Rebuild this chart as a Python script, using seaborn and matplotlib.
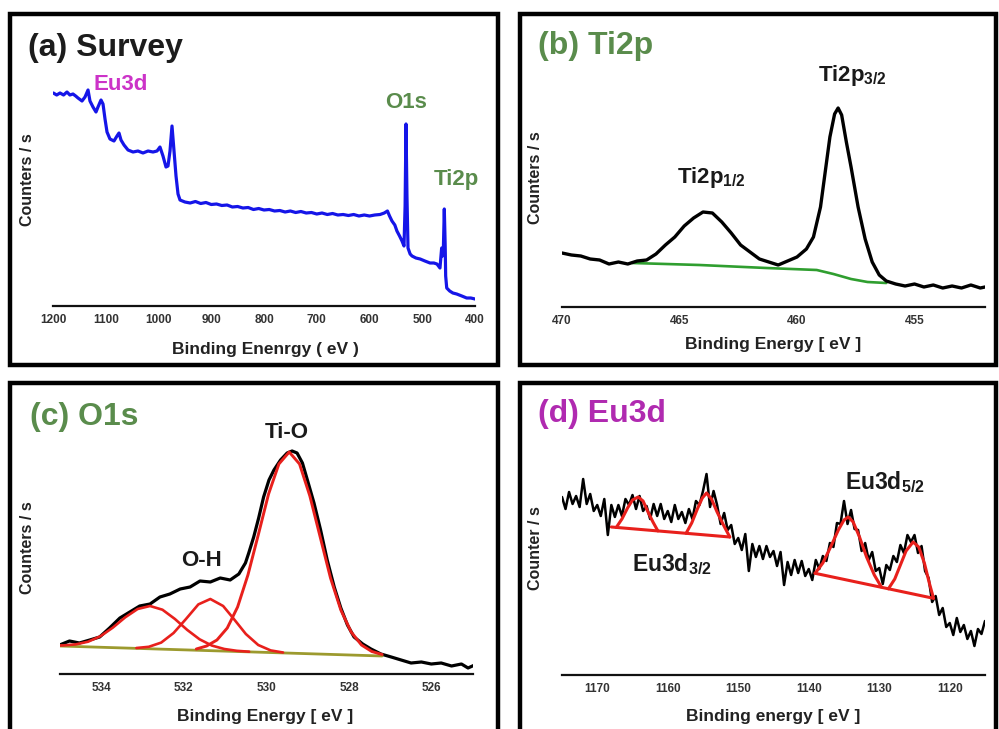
import numpy as np
import pandas as pd
import matplotlib
matplotlib.use("Agg")
import matplotlib.pyplot as plt
from matplotlib.patches import Rectangle
import seaborn as sns

# ---------------- data (intensities in arbitrary counts/s) ----------------
# (a) survey spectrum
survey_energy = [1199.4, 1193, 1186.7, 1180, 1173.5, 1168, 1162.1, 1157, 1152.6, 1145.0, 1139.3,
                 1133.6, 1129.9, 1124.2, 1118.5, 1114.7, 1109.0, 1105.2, 1101.4, 1097.6, 1092.0,
                 1084.4, 1078.7, 1074.9, 1071.1, 1065.4, 1057.8, 1048.3, 1038.9, 1029.4, 1019.9,
                 1010.4, 1002.8, 997.2, 991.5, 985.8, 982.0, 978.2, 974.4, 970.6, 966.8, 963.0,
                 959.2, 950, 940, 930, 920, 910, 900, 890, 880, 870, 860, 850, 840, 830, 820,
                 810, 800, 790, 780, 770, 760, 750, 740, 730, 720, 710, 700, 690, 680, 670,
                 660, 650, 640, 630, 620, 610, 600, 590, 580, 572, 566, 562, 557.4, 552, 548,
                 543, 538.4, 534.6, 532.5, 530.8, 529, 527, 523, 519.4, 512, 504, 495, 485.3,
                 478, 472.1, 466.4, 463.2, 461.5, 460.1, 458.2, 456.5, 455.6, 453.6, 448,
                 442, 434.7, 425, 415.8, 408, 400]
survey_counts = [213, 211, 213, 211, 214, 211, 212, 210, 208, 205, 209,
                 216, 205, 199, 194, 199, 206, 202, 187, 174, 167,
                 165, 170, 173, 166, 161, 156, 154, 155, 153, 155,
                 154, 155, 159, 150, 139, 140, 155, 180, 155, 130, 112,
                 106, 104, 103, 104.5, 102.5, 103.5, 101.5, 102, 100.5, 101, 99, 99.5, 98, 98.5, 96.5,
                 97.5, 96, 96.5, 95, 95.5, 94, 95, 93.5, 94.5, 93, 93.5, 92, 93, 91.5, 92.5,
                 91, 91.5, 90.5, 91.5, 90, 91, 90, 91, 91.5, 93, 95, 90, 85, 81, 75,
                 70, 65, 60, 100, 182, 110, 58, 52, 50, 48, 47, 45, 43,
                 43, 42, 38, 58, 50, 54, 97, 60, 30, 18, 15,
                 13, 12, 10, 8, 8, 7]

# (b) Ti2p high resolution
ti_energy = [470.0, 469.6, 469.2, 468.8, 468.4, 468.0, 467.6, 467.2, 466.8, 466.4, 466.0,
             465.6, 465.2, 464.8, 464.4, 464.0, 463.6, 463.2, 462.8, 462.4, 462.0, 461.6,
             461.2, 460.8, 460.4, 460.0, 459.6, 459.3, 459.0, 458.8, 458.6, 458.4, 458.25,
             458.1, 457.9, 457.7, 457.4, 457.1, 456.8, 456.5, 456.2, 455.8, 455.4, 455.0,
             454.6, 454.2, 453.8, 453.4, 453.0, 452.6, 452.2, 452.0]
ti_counts = [54, 52, 51, 48, 47, 43, 45, 43, 46, 47, 53,
             62, 70, 81, 89, 95, 94, 85, 74, 62, 55, 48,
             45, 42, 46, 50, 58, 70, 100, 135, 170, 193, 199,
             192, 165, 140, 100, 68, 45, 32, 26, 23, 21, 23,
             20, 22, 19, 21, 19, 22, 19, 20]
ti_bg_energy = [467.0, 464.15, 461.3, 459.16, 458.45, 457.7, 457.0, 456.2]
ti_bg_counts = [44, 42, 39, 37, 33, 28, 25, 24]

# (c) O1s high resolution
o_energy = [535.01, 534.77, 534.53, 534.28, 534.04, 533.80, 533.55, 533.31, 533.07, 532.82,
            532.58, 532.34, 532.09, 531.85, 531.61, 531.36, 531.12, 530.88, 530.67, 530.51,
            530.43, 530.31, 530.19, 530.07, 529.94, 529.82, 529.66, 529.50, 529.38, 529.26,
            529.13, 529.01, 528.85, 528.69, 528.53, 528.36, 528.20, 528.04, 527.88, 527.67,
            527.47, 527.23, 526.98, 526.74, 526.50, 526.25, 526.01, 525.77, 525.52, 525.28,
            525.12, 524.96]
o_counts = [29, 33, 31, 34, 37, 46, 56, 62, 68, 70,
            77, 80, 85, 87, 93, 92, 96, 94, 100, 111,
            121, 137, 156, 177, 194, 204, 214, 221, 223, 221,
            211, 194, 171, 144, 114, 87, 66, 49, 37, 30,
            25, 20, 17, 14, 11, 12, 10, 11, 8, 10,
            6, 9]
o_bg_energy = [535.0, 531.1, 527.2]
o_bg_counts = [28, 23, 18]
tio_energy = [527.2, 527.45, 527.7, 527.95, 528.2, 528.45, 528.7, 528.95, 529.2, 529.45,
              529.7, 529.95, 530.2, 530.45, 530.7, 530.95, 531.2, 531.45, 531.7]
tio_counts = [19.5, 22.5, 29, 42, 64, 96, 137, 178, 210, 222,
              210, 180, 139, 99, 67, 46, 34, 28, 25]
oh_energy = [529.6, 529.9, 530.2, 530.5, 530.8, 531.05, 531.36, 531.65, 531.95, 532.25,
             532.55, 532.85, 533.15]
oh_counts = [21.5, 23.6, 29, 40, 55.5, 68, 75, 69.6, 55, 41, 31.4, 27.2, 26]
o3_energy = [535.0, 534.92, 534.62, 534.32, 534.02, 533.72, 533.42, 533.12, 532.82, 532.52,
             532.22, 531.92, 531.62, 531.32, 531.02, 530.72, 530.42]
o3_counts = [28.5, 28.6, 29.6, 32.3, 37.8, 46.4, 56.7, 65, 68, 64.3,
             55.1, 44.1, 34.7, 28.4, 25, 23.2, 22.3]

# (d) Eu3d high resolution (sampled every 0.5 eV from 1175 to 1115 eV)
eu_energy = np.arange(1175.0, 1114.9, -0.5)
eu_counts = [178, 166, 183, 171, 179, 168, 196, 171, 181, 164,
             170, 159, 176, 140, 170, 158, 170, 159, 176, 170,
             180, 166, 179, 164, 169, 156, 171, 159, 171, 156,
             164, 153, 170, 156, 163, 152, 166, 156, 174, 170,
             184, 201, 168, 184, 170, 151, 162, 145, 150, 131,
             137, 125, 141, 104, 131, 118, 129, 116, 129, 118,
             124, 109, 123, 90, 113, 100, 115, 102, 114, 99,
             106, 95, 115, 106, 119, 114, 132, 128, 152, 151,
             174, 151, 165, 146, 145, 124, 132, 115, 123, 104,
             107, 91, 110, 105, 119, 113, 130, 122, 140, 133,
             140, 122, 129, 104, 97, 73, 79, 60, 67, 48,
             52, 40, 57, 43, 50, 36, 44, 29, 46, 41, 54]
eu_bg1_energy = [1168.0, 1151.2]
eu_bg1_counts = [148, 138]
eu_bg2_energy = [1139.1, 1122.3]
eu_bg2_counts = [101.7, 76.7]
eu_pa_energy = [1167.3, 1166.5, 1165.7, 1165.0, 1164.2, 1163.5, 1162.8, 1162.1, 1161.4]
eu_pa_counts = [147.6, 156, 167, 175, 178, 174, 163, 153, 144.1]
eu_pb_energy = [1157.4, 1156.6, 1155.8, 1155.1, 1154.5, 1153.8, 1153.0, 1152.1, 1151.2]
eu_pb_counts = [141.7, 152, 166, 177, 182, 176, 163, 150, 138]
eu_pc_energy = [1139.1, 1138.0, 1136.9, 1135.8, 1135.0, 1134.4, 1133.7, 1132.8, 1131.8, 1130.7, 1129.7]
eu_pc_counts = [101.7, 112, 128, 145, 155, 158, 153, 138, 118, 100, 88]
eu_pd_energy = [1128.7, 1127.8, 1127.0, 1126.2, 1125.2, 1124.4, 1123.6, 1122.9, 1122.3]
eu_pd_counts = [86.2, 96, 110, 124, 133, 128, 112, 92, 76.7]

ticks_a = [1200, 1100, 1000, 900, 800, 700, 600, 500, 400]
ticks_b = [470, 465, 460, 455]
ticks_c = [534, 532, 530, 528, 526]
ticks_d = [1170, 1160, 1150, 1140, 1130, 1120]

# ---------------- style ----------------
sns.set_theme(style="white")
plt.rcParams["font.family"] = ["Liberation Sans", "DejaVu Sans"]
plt.rcParams["font.weight"] = "bold"
plt.rcParams["mathtext.fontset"] = "custom"
plt.rcParams["mathtext.rm"] = "Liberation Sans:bold"
plt.rcParams["mathtext.bf"] = "Liberation Sans:bold"
plt.rcParams["mathtext.it"] = "Liberation Sans:bold"
plt.rcParams["mathtext.default"] = "bf"

W, H = 999, 729
fig = plt.figure(figsize=(W / 100, H / 100), dpi=100)
fig.patch.set_facecolor("white")

GREEN = "#5a8c4c"
MAGENTA = "#cc33c8"
PURPLE = "#b02ab0"
RED = "#e8201c"


def add_ax(l, t, r, b):
    return fig.add_axes([l / W, 1 - b / H, (r - l) / W, (b - t) / H])


def style_ax(ax, l, t, r, b, xlim, ticks, xlabel, ylabel, xl_center, xl_top, yl_right, yl_center):
    ax.set_xlim(*xlim)
    ax.set_ylim(0, b - t)
    ax.set_xticks(ticks)
    ax.set_xticklabels([str(v) for v in ticks], fontsize=8.5, fontweight="bold", color="#333333")
    ax.set_yticks([])
    for s in ["left", "top", "right"]:
        ax.spines[s].set_visible(False)
    ax.spines["bottom"].set_linewidth(1.6)
    ax.spines["bottom"].set_color("#111111")
    ax.tick_params(axis="x", direction="in", length=3.5, width=1.2, pad=6, colors="#333333")
    ax.set_xlabel(xlabel, fontsize=12.5, fontweight="bold", color="#222222")
    ax.set_ylabel(ylabel, fontsize=11.5, fontweight="bold", color="#222222")
    ax.xaxis.set_label_coords((xl_center - l) / (r - l), -(xl_top - b) / (b - t))
    ax.yaxis.set_label_coords((yl_right - l) / (r - l), (b - yl_center) / (b - t))
    ax.set_facecolor("white")
    ax.patch.set_alpha(0)


def line(ax, x, y, color, lw):
    sns.lineplot(x=x, y=y, ax=ax, color=color, linewidth=lw, sort=False, estimator=None)


def ftext(px, py, s, color, size, ha="left", va="center"):
    fig.text(px / W, 1 - py / H, s, color=color, fontsize=size, fontweight="bold", ha=ha, va=va)


# frames around panels
for (x0, y0, x1, y1) in [(10, 13.5, 497.5, 364.5), (519.5, 13.5, 996, 364.5),
                         (10, 383, 497.5, 745), (519.5, 383, 996, 745)]:
    fig.add_artist(Rectangle((x0 / W, 1 - y1 / H), (x1 - x0) / W, (y1 - y0) / H,
                             transform=fig.transFigure, fill=False, lw=3.2, ec="black"))

# (a) survey
axa = add_ax(53, 55, 475, 306)
line(axa, survey_energy, survey_counts, "#1515e8", 2.3)
style_ax(axa, 53, 55, 475, 306, (1200, 400), ticks_a, "Binding Enenrgy ( eV )", "Counters / s",
         265, 342, 35, 180)
ftext(28, 48, "(a) Survey", "#1c1c1c", 23)
ftext(121, 84, "Eu3d", MAGENTA, 16, ha="center")
ftext(406, 102, "O1s", GREEN, 16, ha="center")
ftext(456, 179, "Ti2p", GREEN, 16, ha="center")

# (b) Ti2p
axb = add_ax(562, 49, 985, 307)
line(axb, ti_bg_energy, ti_bg_counts, "#2f9e2f", 1.9)
line(axb, ti_energy, ti_counts, "black", 2.4)
style_ax(axb, 562, 49, 985, 307, (470, 452), ticks_b, "Binding Energy [ eV ]", "Counters / s",
         773, 337, 543, 178)
ftext(538, 46, "(b) Ti2p", GREEN, 23)
ftext(818, 75, "Ti2p$_{3/2}$", "#1a1a1a", 16)
ftext(677, 178, "Ti2p$_{1/2}$", "#1a1a1a", 16)

# (c) O1s
axc = add_ax(60, 422, 473, 674)
line(axc, o_energy, o_counts, "black", 2.3)
line(axc, o_bg_energy, o_bg_counts, "#9c9a2e", 2.0)
line(axc, o3_energy, o3_counts, RED, 1.9)
line(axc, oh_energy, oh_counts, RED, 1.9)
line(axc, tio_energy, tio_counts, RED, 2.1)
style_ax(axc, 60, 422, 473, 674, (535, 525), ticks_c, "Binding Energy [ eV ]", "Counters / s",
         265, 709, 35, 548)
ftext(30, 417, "(c) O1s", GREEN, 23)
ftext(287, 432, "Ti-O", "#1a1a1a", 16, ha="center")
ftext(201, 560, "O-H", "#1a1a1a", 16, ha="center")

# (d) Eu3d
axd = add_ax(562, 421, 985, 675)
line(axd, eu_energy, eu_counts, "black", 1.8)
for ex, ey in [(eu_bg1_energy, eu_bg1_counts), (eu_bg2_energy, eu_bg2_counts),
               (eu_pa_energy, eu_pa_counts), (eu_pb_energy, eu_pb_counts),
               (eu_pc_energy, eu_pc_counts), (eu_pd_energy, eu_pd_counts)]:
    line(axd, ex, ey, RED, 2.2)
style_ax(axd, 562, 421, 985, 675, (1175, 1115), ticks_d, "Binding energy [ eV ]", "Counter / s",
         773, 709, 543, 548)
ftext(538, 414, "(d) Eu3d", PURPLE, 23)
ftext(845, 482, "Eu3d$_{5/2}$", "#1a1a1a", 16.5)
ftext(632, 564, "Eu3d$_{3/2}$", "#1a1a1a", 16.5)

for ax in [axa, axb, axc, axd]:
    leg = ax.get_legend()
    if leg is not None:
        leg.remove()

fig.savefig("out.png", dpi=100, facecolor="white")
